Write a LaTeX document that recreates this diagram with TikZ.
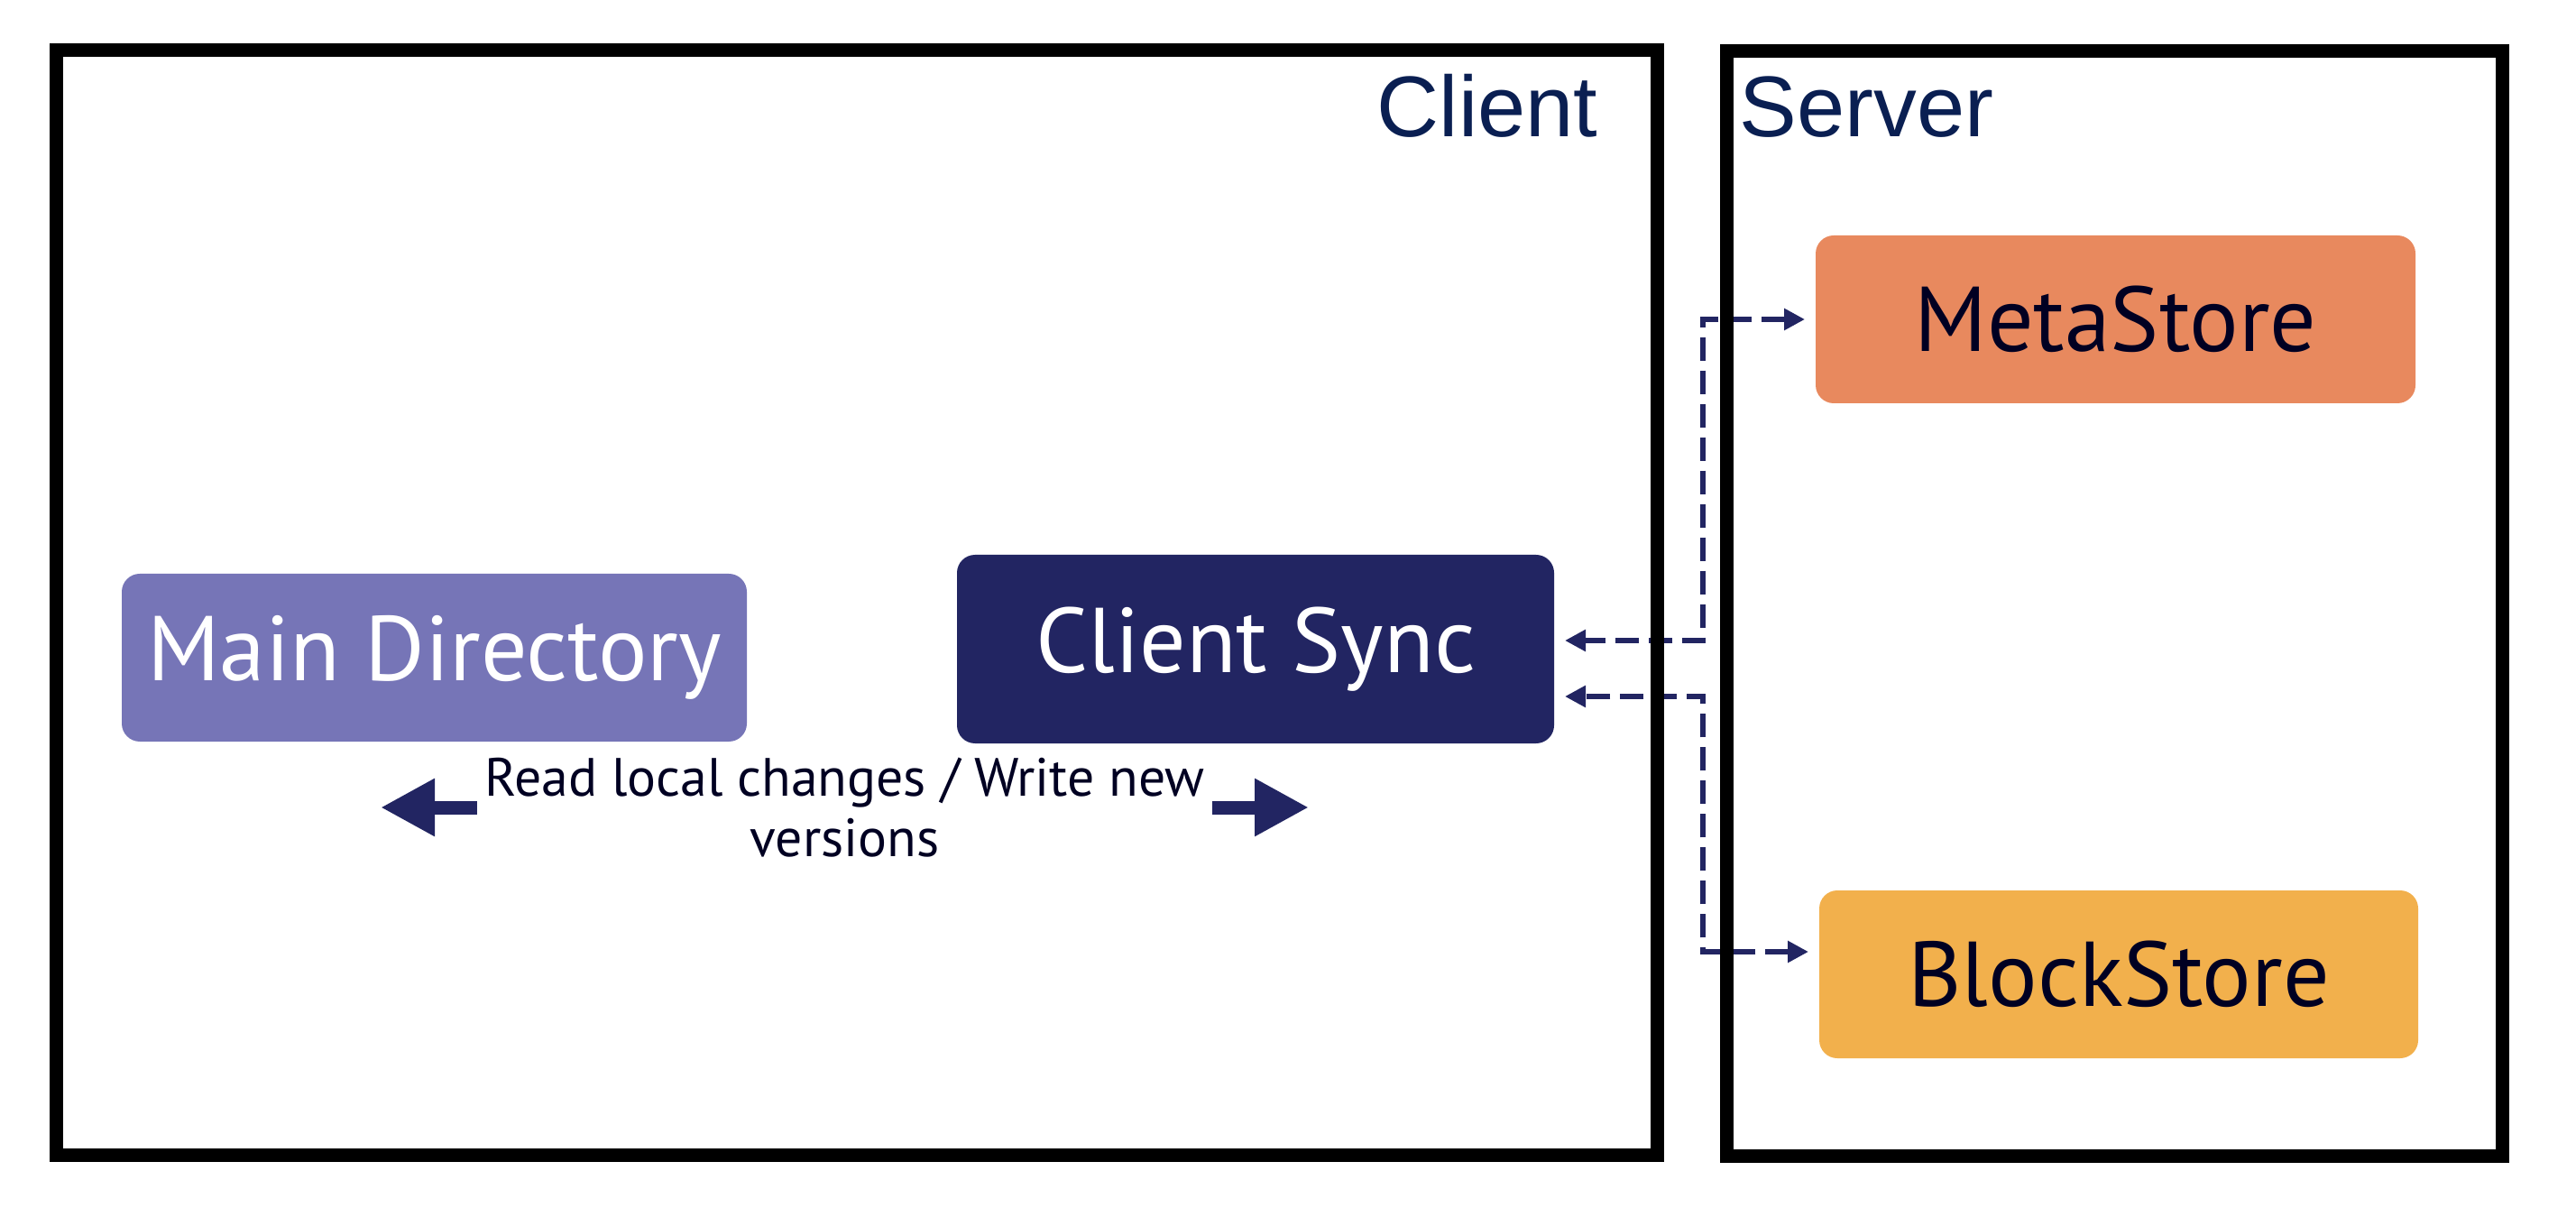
\documentclass[tikz,border=0pt]{standalone}
\usepackage{fontspec}
\newfontfamily\boxfont{PT Sans}
\newfontfamily\headfont{Liberation Sans}
\usetikzlibrary{positioning, arrows.meta}

\definecolor{navy}{HTML}{222562}
\definecolor{dirpurple}{HTML}{7675B7}
\definecolor{metaorange}{HTML}{E8895E}
\definecolor{blockyellow}{HTML}{F2B04C}
\definecolor{headblue}{HTML}{0A1F52}
\definecolor{darkink}{HTML}{000022}

\begin{document}
\begin{tikzpicture}[
		frame/.style={draw=black, line width=0.15cm, inner sep=0pt, outer sep=0pt},
		unit/.style={rounded corners=0.2cm, inner sep=0pt, outer sep=0pt, align=center,
			font=\boxfont\fontsize{29}{34}\selectfont},
		head/.style={font=\headfont\fontsize{27.2}{32}\selectfont, text=headblue, inner sep=0pt},
		rpc/.style={navy, line width=0.06cm, dash pattern=on 0.26cm off 0.11cm,
			{Triangle[length=0.23cm,width=0.23cm]}-{Triangle[length=0.23cm,width=0.23cm]},
			shorten <=0.12cm, shorten >=0.12cm},
		rw/.style={navy, line width=0.15cm,
			{Triangle[length=0.6cm,width=0.6cm]}-{Triangle[length=0.6cm,width=0.6cm]}}
		]
		\useasboundingbox (0,0) rectangle (28.56,-13.49);
		
		% client side
		\node[unit, fill=dirpurple, text=white, minimum width=6.93cm, minimum height=1.86cm] (mainDir) at (4.815,-7.29) {Main Directory};
		\node[unit, fill=navy, text=white, minimum width=6.62cm, minimum height=2.09cm, right=2.33cm of mainDir, yshift=0.095cm] (sync) {Client Sync};
		
		% server side
		\node[unit, fill=metaorange, text=darkink, minimum width=6.65cm, minimum height=1.86cm] (meta) at (23.455,-3.54) {MetaStore};
		\node[unit, fill=blockyellow, text=darkink, minimum width=6.64cm, minimum height=1.86cm] (block) at (23.49,-10.80) {BlockStore};
		
		% read / write between directory and sync
		\coordinate (rwL) at ([xshift=-0.595cm, yshift=-0.73cm]mainDir.south);
		\path (sync.south |- rwL) ++(0.59,0) coordinate (rwR);
		\draw[rw] (rwL) -- (rwR) node[midway, fill=white, text=darkink, align=center, inner xsep=0.08cm, inner ysep=0pt,
			font=\boxfont\fontsize{17}{19.2}\selectfont] (rwLbl) {Read local changes / Write new\\versions};
		
		% sync <-> stores
		\coordinate (bus) at (18.88,0);
		\coordinate (syncUp) at ([yshift=0.095cm]sync.east);
		\coordinate (syncDown) at ([yshift=-0.525cm]sync.east);
		\coordinate (blockIn) at ([yshift=0.25cm]block.west);
		\draw[rpc] (meta.west) -| (bus |- syncUp) -- (syncUp);
		\draw[rpc] (blockIn) -| (bus |- syncDown) -- (syncDown);
		
		% frames
		\node[frame, minimum width=17.747cm, minimum height=12.25cm] (client) at (9.5015,-6.683) {};
		\node[frame, minimum width=8.595cm, minimum height=12.243cm] (server) at (23.4425,-6.6885) {};
		\node[head, anchor=base east] (clientLbl) at ([xshift=-0.655cm, yshift=-0.962cm]client.north east) {Client};
		\node[head, anchor=base west] (serverLbl) at ([xshift=0.135cm, yshift=-0.953cm]server.north west) {Server};
		
	\end{tikzpicture}
\end{document}
